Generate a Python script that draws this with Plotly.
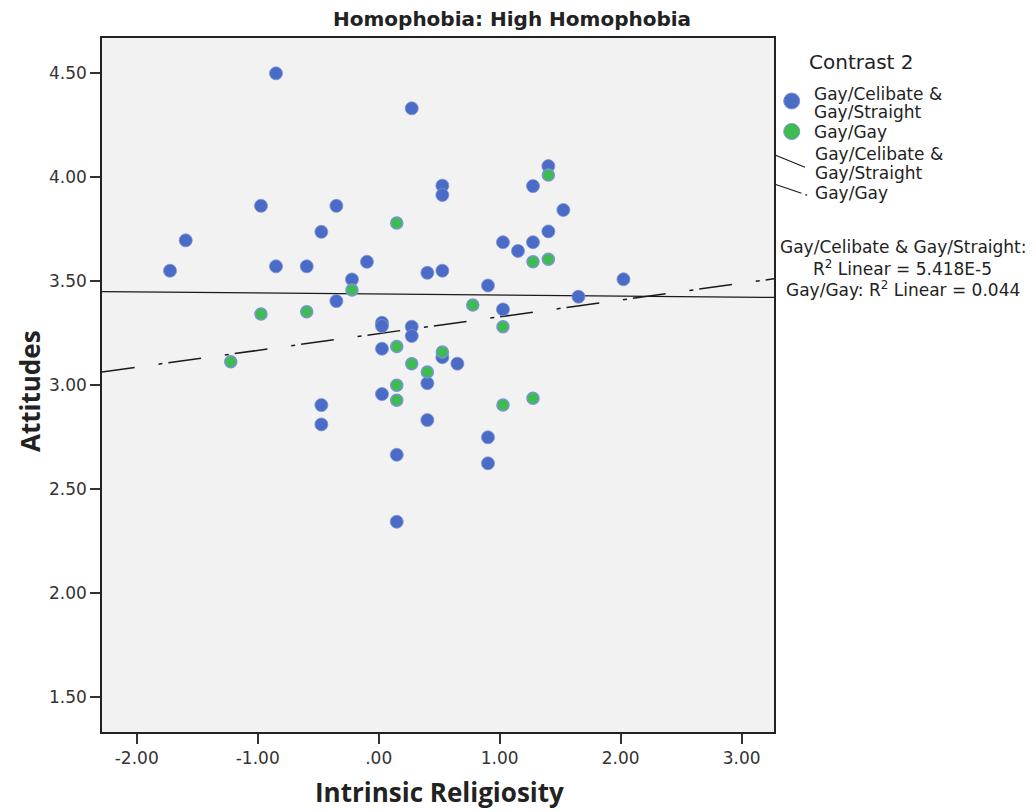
import plotly.graph_objects as go

# ---------------- data ----------------
blue_x = [-0.849, 0.273, -0.973, -0.350, -0.474, -1.595, -1.725, -0.849, -0.595, -0.097,
          0.402, -0.221, -0.350, 1.402, 1.275, 0.526, 0.526, 1.526, 1.402, 1.027,
          1.275, 1.151, 0.526, 0.903, 2.023, 1.651, 1.027, 0.027, 0.027, 0.273,
          0.273, 0.027, 0.526, 0.650, 0.402, 0.027, -0.474, -0.474, 0.402, 0.903,
          0.903, 0.149, 0.149]
blue_y = [4.500, 4.332, 3.863, 3.863, 3.738, 3.697, 3.551, 3.572, 3.572, 3.594,
          3.541, 3.509, 3.405, 4.054, 3.958, 3.960, 3.915, 3.843, 3.740, 3.688,
          3.688, 3.646, 3.551, 3.480, 3.510, 3.426, 3.365, 3.301, 3.285, 3.282,
          3.237, 3.176, 3.135, 3.104, 3.010, 2.958, 2.905, 2.812, 2.833, 2.750,
          2.625, 2.666, 2.344]

green_x = [0.149, -0.221, -0.973, -0.595, -1.223, 0.149, 0.273, 0.402, 0.149, 0.149,
           0.526, 1.402, 1.275, 1.402, 0.777, 1.027, 1.027, 1.275]
green_y = [3.780, 3.458, 3.343, 3.354, 3.113, 3.187, 3.104, 3.064, 3.000, 2.928,
           3.160, 4.011, 3.594, 3.606, 3.386, 3.282, 2.905, 2.938]

# fit lines (endpoints across the x range)
fit_x = [-2.287, 3.267]
fit_blue_y = [3.4505, 3.4226]
fit_green_y = [3.064, 3.5125]

x_tick_vals = [-2, -1, 0, 1, 2, 3]
x_tick_text = ["-2.00", "-1.00", ".00", "1.00", "2.00", "3.00"]
y_tick_vals = [1.5, 2.0, 2.5, 3.0, 3.5, 4.0, 4.5]
y_tick_text = ["1.50", "2.00", "2.50", "3.00", "3.50", "4.00", "4.50"]

series_names = ["Gay/Celibate &", "Gay/Straight", "Gay/Gay"]
r2_lines = ["Gay/Celibate & Gay/Straight:",
            "R<sup>2</sup> Linear = 5.418E-5",
            "Gay/Gay: R<sup>2</sup> Linear = 0.044"]

# ---------------- styling ----------------
W, H = 1036, 812
L, R, T, B = 102, 774, 38, 732
BLUE = "#4a6bc6"
GREEN = "#3dbd4f"
FONT = "DejaVu Sans"
TXT = "#222222"


def px(xp):
    return (xp - L) / (R - L)


def py(yp):
    return (B - yp) / (B - T)


fig = go.Figure()

fig.add_trace(go.Scatter(
    x=fit_x, y=fit_blue_y, mode="lines",
    line=dict(color="#1a1a1a", width=1.3), hoverinfo="skip", showlegend=False))
fig.add_trace(go.Scatter(
    x=fit_x, y=fit_green_y, mode="lines",
    line=dict(color="#1a1a1a", width=1.5, dash="33px,24px,4px,6px"),
    hoverinfo="skip", showlegend=False))

fig.add_trace(go.Scatter(
    x=blue_x, y=blue_y, mode="markers", name="Gay/Celibate & Gay/Straight",
    marker=dict(color=BLUE, size=13, line=dict(color="#7b93d6", width=0.8)),
    showlegend=False))
fig.add_trace(go.Scatter(
    x=green_x, y=green_y, mode="markers", name="Gay/Gay",
    marker=dict(color=GREEN, size=12, line=dict(color="#7b93d6", width=1.5)),
    showlegend=False))

shapes = []
annotations = []

# legend title
annotations.append(dict(text="Contrast 2", xref="paper", yref="paper",
                        x=px(807), y=py(62), xanchor="left", yanchor="middle",
                        showarrow=False, font=dict(family=FONT, size=20, color=TXT)))
# legend markers
for yc, col in [(101, BLUE), (131.5, GREEN)]:
    shapes.append(dict(type="circle", xref="paper", yref="paper",
                       xsizemode="pixel", ysizemode="pixel",
                       xanchor=px(791.7), yanchor=py(yc),
                       x0=-8, x1=8, y0=-8, y1=8,
                       fillcolor=col, line=dict(color="#7b93d6", width=1)))
# legend labels
leg_rows = [(series_names[0], 811.5, 94.3), (series_names[1], 811.5, 111.7),
            (series_names[2], 811.5, 131.7), (series_names[0], 812.5, 154.3),
            (series_names[1], 812.5, 172.7), (series_names[2], 812.5, 193.3)]
for t, xx, yy in leg_rows:
    annotations.append(dict(text=t, xref="paper", yref="paper", x=px(xx), y=py(yy),
                            xanchor="left", yanchor="middle", showarrow=False,
                            font=dict(family=FONT, size=17, color=TXT)))
# legend line symbols
shapes.append(dict(type="line", xref="paper", yref="paper",
                   x0=px(775), y0=py(155), x1=px(805), y1=py(167.3),
                   line=dict(color="#1a1a1a", width=1.2)))
shapes.append(dict(type="line", xref="paper", yref="paper",
                   x0=px(775), y0=py(184.3), x1=px(807.5), y1=py(195.3),
                   line=dict(color="#1a1a1a", width=1.2, dash="28px,4px,2px,20px")))

# R^2 texts
for t, yy in zip(r2_lines, [246.7, 268.3, 289.3]):
    annotations.append(dict(text=t, xref="paper", yref="paper", x=px(902.5), y=py(yy),
                            xanchor="center", yanchor="middle", showarrow=False,
                            font=dict(family=FONT, size=17, color=TXT)))

# axis titles
annotations.append(dict(text="<b>Attitudes</b>", xref="paper", yref="paper",
                        x=px(30), y=py(391), xanchor="center", yanchor="middle",
                        textangle=-90, showarrow=False,
                        font=dict(family="Open Sans", size=26, color=TXT)))
annotations.append(dict(text="<b>Intrinsic Religiosity</b>", xref="paper", yref="paper",
                        x=px(439), y=py(792), xanchor="center", yanchor="middle",
                        showarrow=False,
                        font=dict(family="Open Sans", size=26, color=TXT)))
# title
annotations.append(dict(text="<b>Homophobia: High Homophobia</b>", xref="paper", yref="paper",
                        x=px(512), y=py(19), xanchor="center", yanchor="middle",
                        showarrow=False, font=dict(family=FONT, size=20, color=TXT)))

fig.update_layout(
    width=W, height=H,
    margin=dict(l=L, r=W - R, t=T, b=H - B, pad=0),
    paper_bgcolor="white", plot_bgcolor="#f2f2f2",
    shapes=shapes, annotations=annotations, showlegend=False,
    font=dict(family=FONT, color=TXT),
)
fig.update_xaxes(range=[-2.287, 3.267], tickvals=x_tick_vals, ticktext=x_tick_text,
                 showgrid=False, zeroline=False, showline=True, linecolor="#222",
                 linewidth=1.5, mirror=True, ticks="outside", ticklen=10, tickwidth=1.5,
                 tickcolor="#333", tickfont=dict(family=FONT, size=17, color="#333"))
fig.update_yaxes(range=[1.333, 4.670], tickvals=y_tick_vals, ticktext=y_tick_text,
                 showgrid=False, zeroline=False, showline=True, linecolor="#222",
                 linewidth=1.5, mirror=True, ticks="outside", ticklen=10, tickwidth=1.5,
                 tickcolor="#333", tickfont=dict(family=FONT, size=17, color="#333"))

fig.write_html("out.html")
